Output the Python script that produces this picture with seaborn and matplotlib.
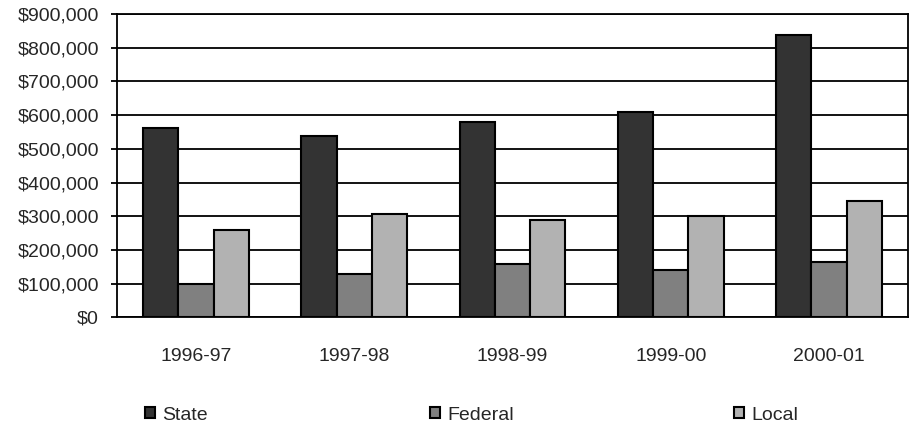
import matplotlib
matplotlib.use("Agg")
import matplotlib.pyplot as plt
import seaborn as sns
import pandas as pd
from matplotlib.ticker import FuncFormatter
from matplotlib.patches import Patch

years = ["1996-97", "1997-98", "1998-99", "1999-00", "2000-01"]
series = ["State", "Federal", "Local"]
state = [563000, 539000, 580000, 610000, 838000]
federal = [100000, 128000, 158000, 140000, 165000]
local = [260000, 307000, 290000, 300000, 344000]
colors = ["#333333", "#808080", "#b2b2b2"]

rows = []
for name, vals in zip(series, [state, federal, local]):
    for y, v in zip(years, vals):
        rows.append({"Year": y, "Source": name, "Amount": v})
df = pd.DataFrame(rows)

sns.set_style("white")
plt.rcParams["font.family"] = ["Liberation Sans", "DejaVu Sans"]

fig = plt.figure(figsize=(9.1, 4.28), dpi=100)
ax = fig.add_axes([117 / 910, 1 - 317.3 / 428, (908 - 117) / 910, (317.3 - 14) / 428])

sns.barplot(data=df, x="Year", y="Amount", hue="Source", order=years,
            hue_order=series, palette=colors, width=0.67, ax=ax,
            edgecolor="black", linewidth=1.5, saturation=1, legend=False, zorder=3)

ax.set_ylim(0, 900000)
ax.set_yticks(range(0, 900001, 100000))
ax.yaxis.set_major_formatter(FuncFormatter(lambda v, p: "${:,.0f}".format(v)))
ax.grid(axis="y", color="black", linewidth=1.3, zorder=0)
ax.set_axisbelow(True)
for s in ax.spines.values():
    s.set_color("black")
    s.set_linewidth(1.3)
ax.set_xlabel("")
ax.set_ylabel("")
ax.tick_params(axis="y", length=4, width=1.3, color="black", pad=9, labelsize=14, left=True)
ax.tick_params(axis="x", length=0, pad=22, labelsize=14)

xs = [150, 435, 739]
for name, c, x in zip(series, colors, xs):
    h = Patch(facecolor=c, edgecolor="black", linewidth=1.5)
    fig.legend(handles=[h], labels=[name], loc="center left",
               bbox_to_anchor=((x - 5) / 910, 1 - 415 / 428), frameon=False,
               fontsize=14, handlelength=0.5, handleheight=0.5, handletextpad=0.4,
               borderpad=0, borderaxespad=0)

fig.savefig("out.png", dpi=100)
